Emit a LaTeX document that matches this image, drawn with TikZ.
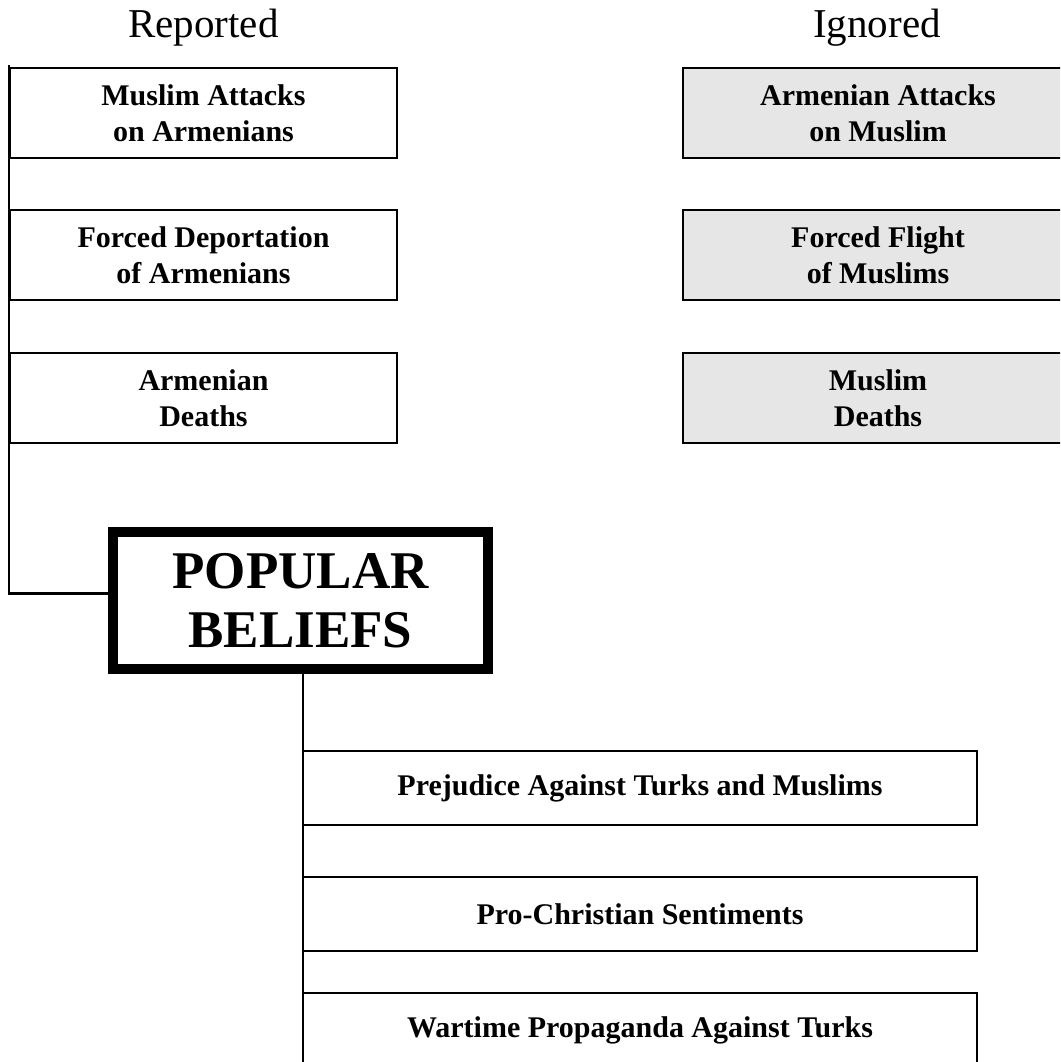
\documentclass[tikz,border=0pt]{standalone}
\usepackage{fontspec}
\setmainfont{Liberation Serif}
\definecolor{boxgray}{HTML}{E6E6E6}
\begin{document}
\begin{tikzpicture}[x=1pt,y=-1pt,
  ebox/.style={draw=black, line width=2.5pt, rectangle, align=center, inner sep=0pt,
    font=\fontsize{30}{36}\selectfont\bfseries},
  lbox/.style={ebox, fill=white, minimum width=387pt, minimum height=90pt},
  rbox/.style={ebox, fill=boxgray, minimum width=390pt, minimum height=90pt},
  bbox/.style={ebox, fill=white, minimum width=674pt, minimum height=74pt},
  bigbox/.style={draw=black, line width=10pt, rectangle, align=center, inner sep=0pt,
    fill=white, minimum width=375pt, minimum height=137pt,
    font=\fontsize{53}{59}\selectfont\bfseries},
  head/.style={anchor=base, inner sep=0pt, font=\fontsize{41}{41}\selectfont},
  link/.style={draw=black, line width=2.5pt}
]
\useasboundingbox (0,0) rectangle (1060,1062);
\clip (0,0) rectangle (1060,1062);
\fill[white] (0,0) rectangle (1060,1062);

\node[head] (hrep) at (203.5,38) {Reported};
\node[head] (hign) at (877,38) {Ignored};

\node[lbox] (l1) at (203.5,113) {Muslim Attacks\\on Armenians};
\node[lbox] (l2) at (203.5,255) {Forced Deportation\\of Armenians};
\node[lbox] (l3) at (203.5,398) {Armenian\\Deaths};

\node[rbox] (r1) at (878,113) {Armenian Attacks\\on Muslim};
\node[rbox] (r2) at (878,255) {Forced Flight\\of Muslims};
\node[rbox] (r3) at (878,398) {Muslim\\Deaths};

\node[bigbox] (pb) at (300.5,600.5) {POPULAR\\BELIEFS};

\node[bbox] (b1) at (640,788) {Prejudice Against Turks and Muslims};
\node[bbox] (b2) at (640,914) {Pro-Christian Sentiments};
\node[bbox] (b3) at (640,1030) {Wartime Propaganda Against Turks};

\coordinate (pbin) at ([yshift=7pt]pb.west);
\coordinate (tail) at (303,1070);

\draw[link, line cap=rect] (l1.north west) |- (pbin);
\draw[link] (pb.south -| tail) -- (tail);
\end{tikzpicture}
\end{document}
